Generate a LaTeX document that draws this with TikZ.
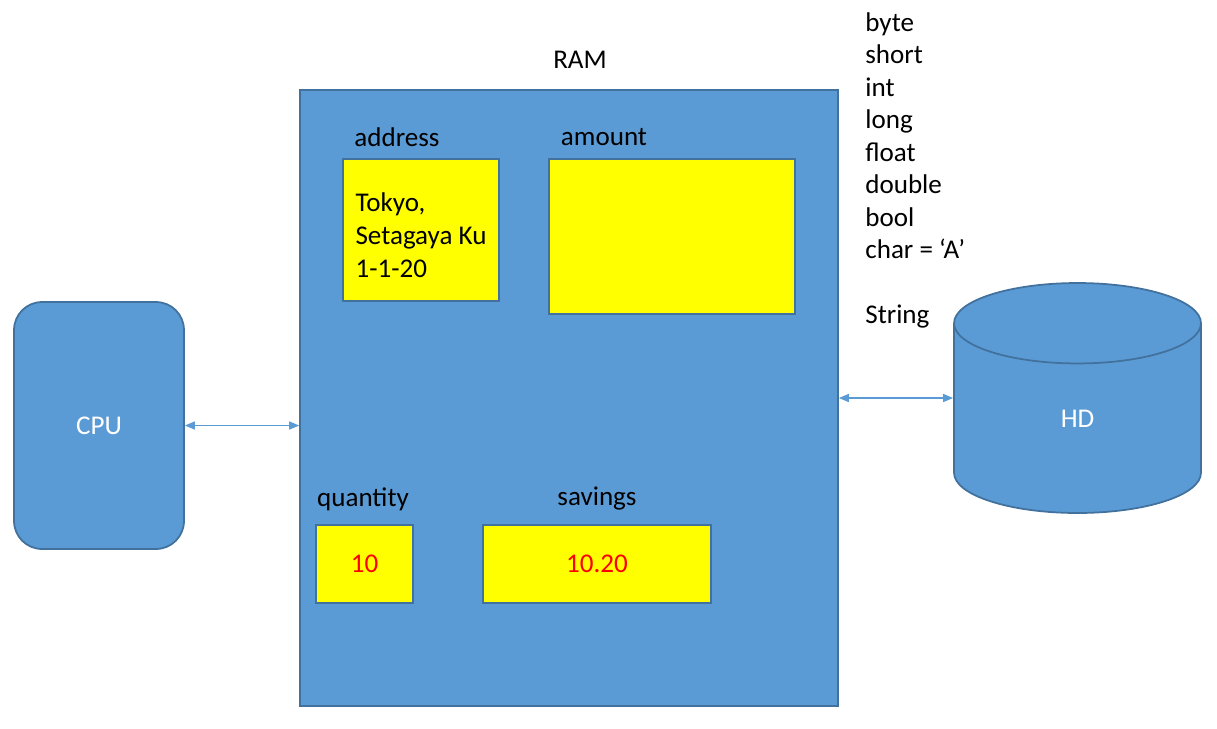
\documentclass[tikz,border=0pt]{standalone}
\usepackage{fontspec}
\setmainfont{Carlito}
\usepackage{tikz}
\usetikzlibrary{shapes.geometric, arrows.meta, positioning}
\definecolor{ramblue}{HTML}{5B9BD5}
\definecolor{edgeblue}{HTML}{41719C}
\definecolor{varyellow}{HTML}{FFFF00}
\definecolor{valred}{HTML}{FF0000}
\tikzset{
  dev/.style={rectangle, draw=edgeblue, line width=1pt, fill=ramblue, text=white,
    font=\fontsize{15.4}{18.5}\selectfont, inner sep=0pt},
  varbox/.style={rectangle, draw=edgeblue, line width=1pt, fill=varyellow,
    font=\fontsize{15.4}{19}\selectfont, inner sep=0pt},
  varlbl/.style={font=\fontsize{15.4}{18.5}\selectfont, inner sep=0pt},
  ar/.style={{Triangle[length=2mm,width=1.6mm]}-{Triangle[length=2mm,width=1.6mm]}, draw=ramblue, line width=0.8pt},
}
\begin{document}
\begin{tikzpicture}[x=0.02cm, y=-0.02cm]
\useasboundingbox (0,0) rectangle (1217,728);

%% ===== DEVICES =====
\node[dev, rounded corners=0.56cm, minimum width=3.4cm, minimum height=4.94cm] (CPU) at (99,425.5) {CPU};
\node[dev, minimum width=10.76cm, minimum height=12.32cm] (RAM) at (569,398) {};
\node[varlbl, above=0.4cm of RAM.north, xshift=0.22cm] (RAMlbl) {RAM};
\node[dev, cylinder, shape border rotate=90, aspect=2.4, minimum width=4.94cm, minimum height=4.6cm, anchor=shape center] (HD) at (1077.5,398) {HD};

% -- variables in RAM --
\node[varbox, minimum width=3.12cm, minimum height=2.84cm, align=left] (ADDR) at (421,230) {\rule{0pt}{16.5pt}Tokyo,\\Setagaya Ku\\1-1-20};
\node[varbox, minimum width=4.92cm, minimum height=3.1cm] (AMT) at (672,236.5) {};
\node[varbox, minimum width=1.94cm, minimum height=1.56cm, text=valred] (QTY) at (364.5,564) {10};
\node[varbox, minimum width=4.56cm, minimum height=1.56cm, text=valred] (SAV) at (597,564) {10.20};

\node[varlbl] (ADDRlbl) at (397,137) {address};
\node[varlbl] (AMTlbl) at (604,137) {amount};
\node[varlbl] (QTYlbl) at (363,499) {quantity};
\node[varlbl] (SAVlbl) at (597,499) {savings};

% -- types --
\node[varlbl, anchor=north west, align=left] (TYPES) at (865,12) {byte\\short\\int\\long\\float\\double\\bool\\char = ‘A’\\[18.5pt]String};

%% ===== CONNECTORS =====
\draw[ar] (CPU.east) -- (CPU.east -| RAM.west);
\draw[ar] (RAM.east) -- (RAM.east -| HD.west);
\end{tikzpicture}
\end{document}
